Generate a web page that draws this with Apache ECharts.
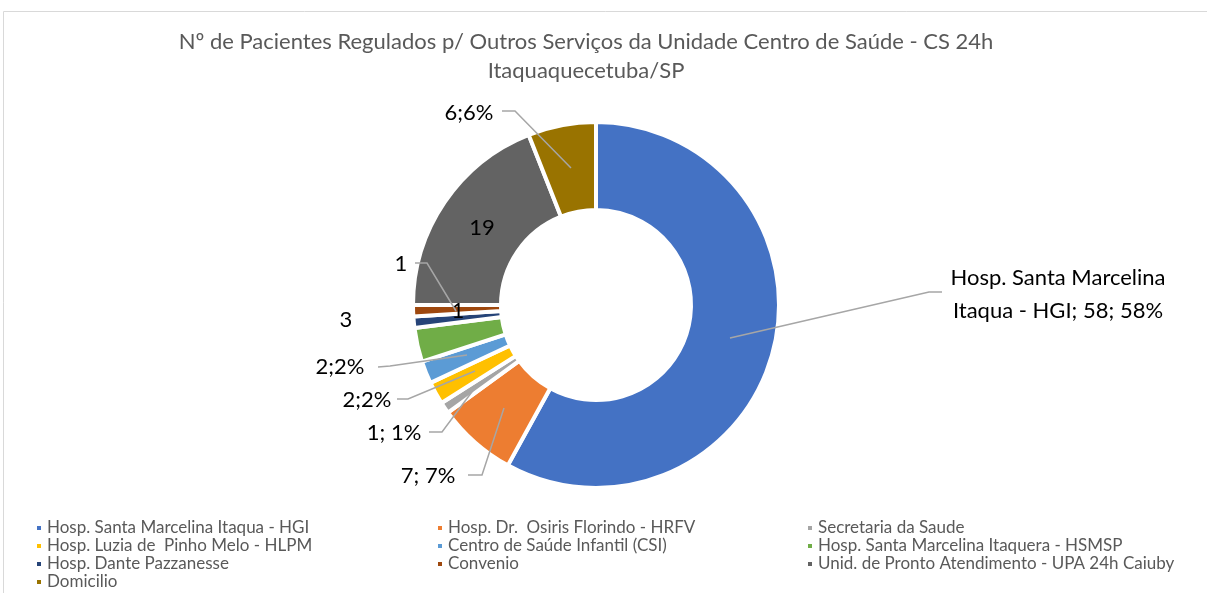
<!DOCTYPE html>
<html><head><meta charset="utf-8">
<script src="https://cdn.jsdelivr.net/npm/echarts@6/dist/echarts.min.js"></script>
<style>html,body{margin:0;padding:0;background:#fff}#c{width:1207px;height:593px}</style>
</head><body><div id="c"></div>
<script>
const titleLines = ['Nº de Pacientes Regulados p/ Outros Serviços da Unidade Centro de Saúde - CS 24h', 'Itaquaquecetuba/SP'];
const categories = [
  'Hosp. Santa Marcelina Itaqua - HGI',
  'Hosp. Dr.  Osiris Florindo - HRFV',
  'Secretaria da Saude',
  'Hosp. Luzia de  Pinho Melo - HLPM',
  'Centro de Saúde Infantil (CSI)',
  'Hosp. Santa Marcelina Itaquera - HSMSP',
  'Hosp. Dante Pazzanesse',
  'Convenio',
  'Unid. de Pronto Atendimento - UPA 24h Caiuby',
  'Domicilio'
];
const values = [58, 7, 1, 2, 2, 3, 1, 1, 19, 6];
const labelTexts = [
  'Hosp. Santa Marcelina\nItaqua - HGI; 58; 58%',
  '7; 7%', '1; 1%', '2;2%', '2;2%', '3', '1', '1', '19', '6;6%'
];
const colors = ['#4472C4','#ED7D31','#A5A5A5','#FFC000','#5B9BD5','#70AD47','#264478','#9E480E','#636363','#997300'];

const labelPlacement = [
  {x:1058, y:294, line:[[730,338],[929,292],[942,292]]},
  {x:428, y:476, line:[[504,408],[482,475],[468,475]]},
  {x:394, y:433, line:[[477,385],[442,432],[429,432]]},
  {x:367, y:400, line:[[475,371],[408,399],[397,399]]},
  {x:340, y:367, line:[[467,355],[390,366],[378,367]]},
  {x:346, y:320, line:null},
  {x:458, y:311, line:null},
  {x:401, y:264, line:[[456,311],[427,263],[415,263]]},
  {x:482, y:228, line:null},
  {x:469, y:113, line:[[571,168],[515,111],[502,111]]}
];
const legendColumns = [[0,3,6,9],[1,4,7],[2,5,8]];
const legendLeft = [35, 436, 806];

const chart = echarts.init(document.getElementById('c'), null, {renderer:'canvas'});
const FONT = 'Lato';
const data = categories.map((n,i)=>({ name:n, value:values[i], itemStyle:{color:colors[i]} }));
const leaderLines = labelPlacement.filter(L=>L.line).map(L=>({
  type:'polyline', z:100, silent:true,
  shape:{points:L.line},
  style:{stroke:'#A6A6A6', lineWidth:1.5, fill:null}
}));
chart.setOption({
  animation:false,
  color:colors,
  graphic:[{type:'rect', z:-1, shape:{x:3.5,y:11.5,width:1300,height:700}, style:{fill:'none', stroke:'#d9d9d9', lineWidth:1}, silent:true}].concat(leaderLines),
  title:{
    text: titleLines.join('\n'), left:581, top:22, padding:5, textAlign:'center',
    textStyle:{fontFamily:FONT, fontSize:22, fontWeight:'normal', color:'#595959', lineHeight:29}
  },
  legend: legendColumns.map((col,k)=>({
    orient:'vertical', left:legendLeft[k], top:519,
    data: col.map(i=>categories[i]),
    icon:'rect', itemWidth:6, itemHeight:6, itemGap:0, padding:0,
    textStyle:{fontFamily:FONT, fontSize:17, color:'#595959', lineHeight:18}
  })),
  series:[{
    type:'pie', center:[596,305], radius:[95,183],
    startAngle:90, clockwise:true, avoidLabelOverlap:false,
    itemStyle:{borderColor:'#fff', borderWidth:4},
    label:{show:true, position:'outside', formatter:p=>labelTexts[p.dataIndex],
      fontFamily:FONT, fontSize:22, color:'#000', lineHeight:33, align:'center'},
    labelLine:{show:false},
    emphasis:{disabled:true},
    labelLayout: function(p){
      const L = labelPlacement[p.dataIndex];
      return {x:L.x, y:L.y, align:'center', verticalAlign:'middle'};
    },
    data:data
  }]
});
</script></body></html>
